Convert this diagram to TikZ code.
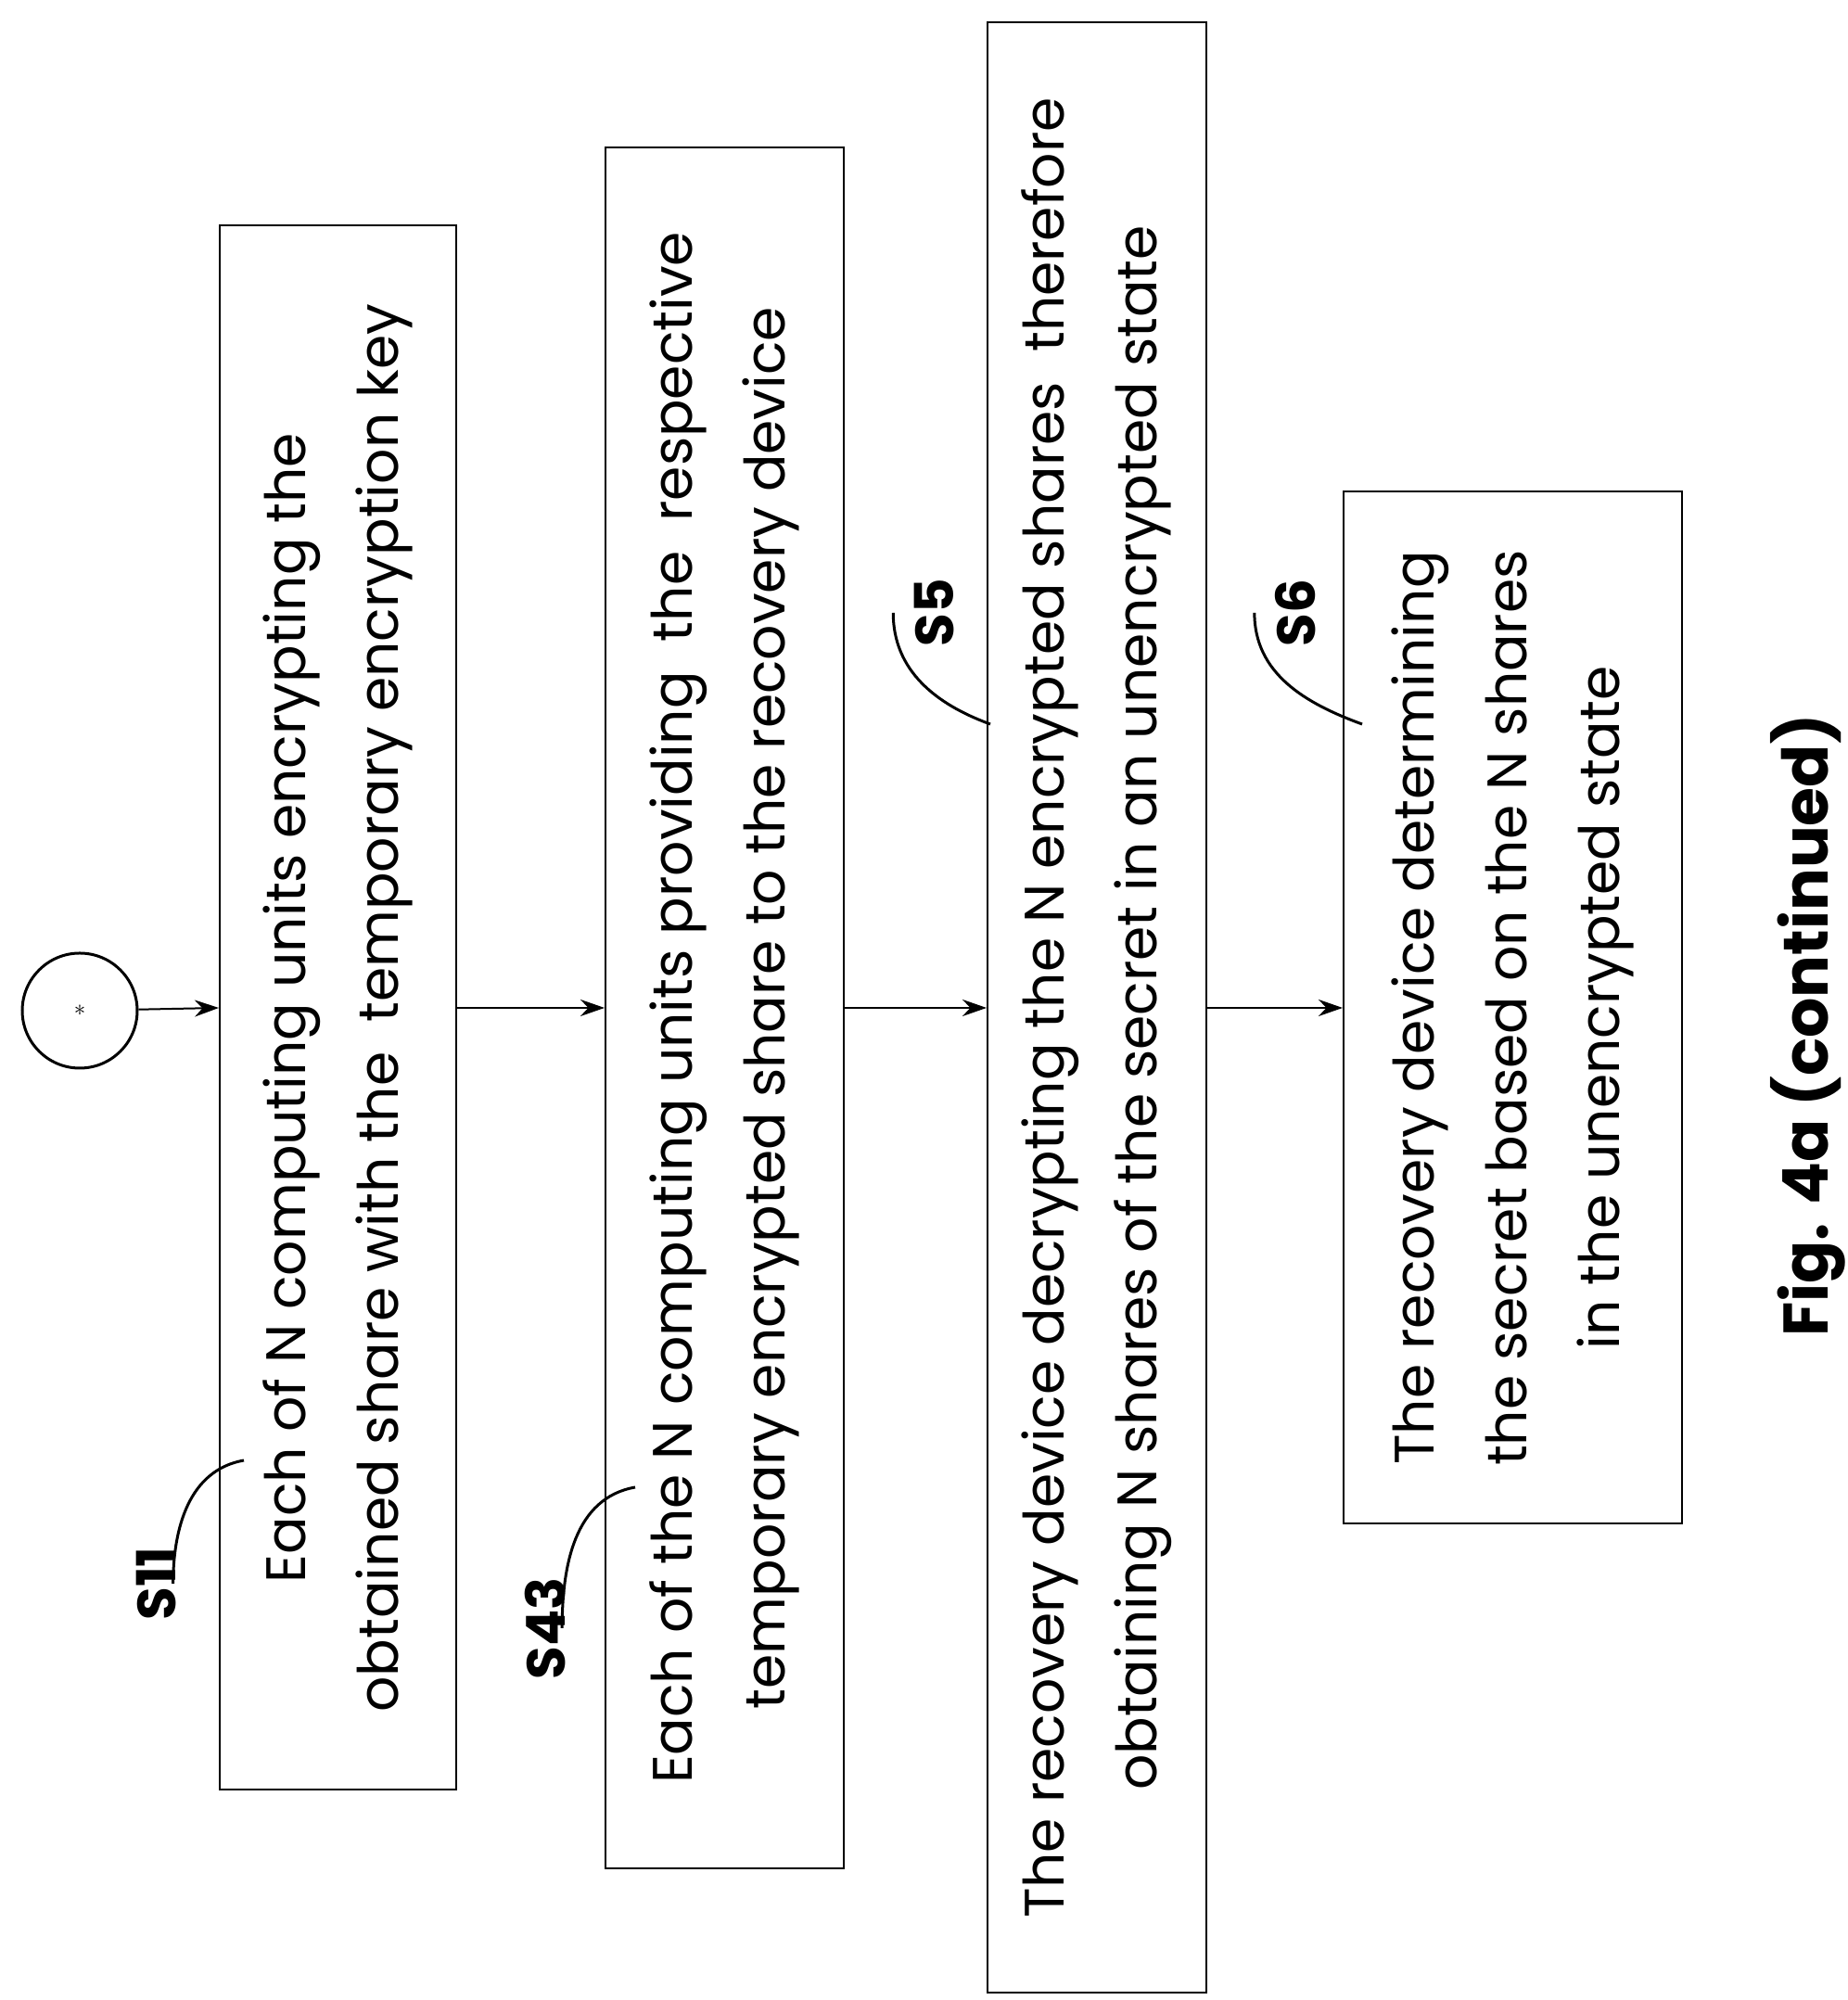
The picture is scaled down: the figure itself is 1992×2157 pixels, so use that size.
\documentclass[tikz,border=0pt]{standalone}
\usepackage{fontspec}
\setmainfont{Poppins}
\usetikzlibrary{arrows.meta}
\begin{document}
\begin{tikzpicture}[x=1pt, y=1pt, line width=2pt,
  stepbox/.style={draw, rotate=90, align=center, inner sep=0pt,
    font=\fontsize{60}{100}\selectfont},
  tag/.style={rotate=90, font=\fontsize{58}{60}\selectfont\bfseries},
  flow/.style={-{Stealth[length=26pt, width=18pt]}},
  lead/.style={line width=3pt}]
\useasboundingbox (0,0) rectangle (1992,2157);
\node[draw, circle, minimum size=124pt, line width=3pt, inner sep=0pt] (start) at (86,1067)
  {\fontsize{90}{90}\selectfont\bfseries$\ast$};
\node[stepbox, minimum width=1687pt, minimum height=255pt] (b1) at (364.5,1070)
  {Each of N computing units encrypting the\\obtained share with the\ \ temporary encryption key};
\node[stepbox, minimum width=1856pt, minimum height=257pt] (b2) at (781.5,1070)
  {Each of the N computing units providing\ \ the\ \ respective\\temporary encrypted share to the recovery device};
\node[stepbox, minimum width=2125pt, minimum height=236pt] (b3) at (1183,1070)
  {The recovery device decrypting the N encrypted shares\ \ therefore\\obtaining N shares of the secret in an unencrypted state};
\node[stepbox, minimum width=1113pt, minimum height=365pt] (b4) at (1631.5,1070)
  {The recovery device determining\\the secret based on the N shares\\in the unencrypted state};
% connectors
\draw[flow] (start) -- (b1.north);
\draw[flow] (b1.south) -- (b2.north);
\draw[flow] (b2.south) -- (b3.north);
\draw[flow] (b3.south) -- (b4.north);
% step tags
\node[tag] (t11) at (169,449) {S11};
\node[tag] (t43) at (588,401) {S43};
\node[tag] (t5) at (1007,1496) {S5};
\node[tag] (t6) at (1397,1496) {S6};
\coordinate (e11) at (263,582);
\coordinate (e43) at (685,553);
\coordinate (e5) at (1068,1376);
\coordinate (e6) at (1469,1376);
\draw[lead] (t11.south) ++(-8,0) to[out=90, in=190] (e11);
\draw[lead] (t43.south) ++(-8,0) to[out=90, in=190] (e43);
\draw[lead] (t5.north) ++(-18,0) to[out=-90, in=160] (e5);
\draw[lead] (t6.north) ++(-18,0) to[out=-90, in=160] (e6);
\node[rotate=90, font=\fontsize{68}{70}\selectfont\bfseries] (fig) at (1950,1051) {Fig. 4a (continued)};
\end{tikzpicture}
\end{document}
